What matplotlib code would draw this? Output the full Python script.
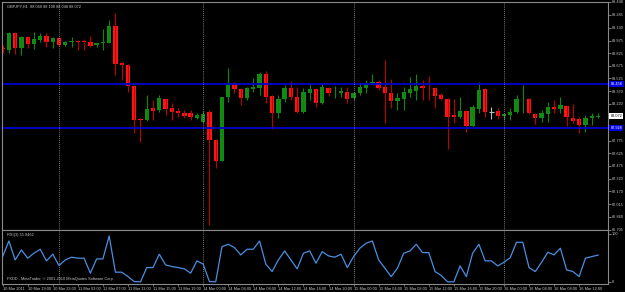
import matplotlib
matplotlib.use("Agg")
import matplotlib.pyplot as plt
import matplotlib.transforms as mtransforms
import numpy as np

# GBPJPY H1 candles, 10 Mar 2011 15:00 -> 16 Mar 2011 15:00
opens = [88.888, 88.864, 89.068, 88.888, 89.020, 88.936, 88.984, 89.032, 88.960, 89.008,
         88.924, 88.960, 88.972, 88.972, 88.960, 88.924, 88.948, 88.948, 89.152, 88.708,
         88.684, 88.432, 88.036, 88.024, 88.168, 88.144, 88.276, 88.168, 88.132, 88.108,
         88.108, 88.048, 88.000, 88.120, 87.784, 87.532, 88.300, 88.456, 88.396, 88.288,
         88.396, 88.408, 88.576, 88.312, 88.108, 88.276, 88.408, 88.300, 88.120, 88.348,
         88.396, 88.228, 88.408, 88.354, 88.348, 88.360, 88.288, 88.348, 88.408, 88.468,
         88.480, 88.420, 88.348, 88.252, 88.276, 88.348, 88.372, 88.432, 88.408, 88.408,
         88.324, 88.276, 88.084, 88.060, 88.132, 87.952, 88.156, 88.396, 88.120, 88.132,
         88.072, 88.084, 88.120, 88.282, 88.276, 88.096, 88.048, 88.096, 88.180, 88.156,
         88.192, 88.048, 88.036, 87.964, 88.048, 88.060]
highs = [88.924, 89.080, 89.080, 89.032, 89.032, 89.080, 89.068, 89.068, 89.020, 89.020,
         88.972, 89.020, 88.984, 88.996, 89.032, 88.948, 89.116, 89.224, 89.308, 88.720,
         88.696, 88.432, 88.048, 88.324, 88.264, 88.324, 88.276, 88.228, 88.168, 88.144,
         88.144, 88.108, 88.132, 88.144, 87.796, 88.300, 88.648, 88.480, 88.408, 88.420,
         88.528, 88.600, 88.612, 88.324, 88.324, 88.444, 88.492, 88.420, 88.408, 88.468,
         88.408, 88.468, 88.420, 88.432, 88.420, 88.420, 88.360, 88.468, 88.504, 88.576,
         88.504, 88.744, 88.516, 88.348, 88.420, 88.540, 88.576, 88.504, 88.552, 88.420,
         88.348, 88.288, 88.276, 88.300, 88.144, 88.204, 88.480, 88.408, 88.180, 88.168,
         88.096, 88.168, 88.324, 88.444, 88.288, 88.108, 88.144, 88.240, 88.264, 88.300,
         88.204, 88.216, 88.060, 88.084, 88.108, 88.108]
lows = [88.828, 88.828, 88.816, 88.804, 88.888, 88.876, 88.960, 88.900, 88.888, 88.912,
        88.912, 88.900, 88.864, 88.864, 88.900, 88.900, 88.864, 88.948, 88.564, 88.504,
        88.360, 87.868, 87.760, 88.012, 88.024, 88.120, 88.084, 88.024, 88.060, 88.048,
        88.024, 88.036, 87.988, 86.764, 87.448, 87.532, 88.240, 88.348, 88.204, 88.264,
        88.360, 88.324, 88.228, 87.916, 88.048, 88.240, 88.264, 88.108, 88.108, 88.264,
        88.180, 88.216, 88.312, 88.288, 88.300, 88.228, 88.264, 88.324, 88.348, 88.456,
        88.384, 87.988, 88.168, 88.144, 88.144, 88.300, 88.264, 88.264, 88.264, 88.168,
        88.264, 87.676, 87.988, 88.048, 87.880, 87.940, 88.108, 88.060, 88.036, 88.036,
        88.024, 88.024, 88.108, 88.108, 88.096, 87.976, 88.000, 88.000, 88.108, 88.108,
        87.952, 87.988, 87.868, 87.880, 87.964, 88.048]
closes = [88.876, 89.068, 88.888, 89.020, 88.936, 88.996, 89.032, 88.960, 89.008, 88.924,
          88.960, 88.972, 88.960, 88.960, 88.912, 88.948, 88.960, 89.152, 88.696, 88.684,
          88.432, 88.024, 88.024, 88.156, 88.132, 88.288, 88.156, 88.120, 88.108, 88.072,
          88.060, 88.084, 88.096, 87.784, 87.532, 88.300, 88.456, 88.396, 88.288, 88.408,
          88.420, 88.576, 88.300, 88.108, 88.276, 88.408, 88.300, 88.120, 88.360, 88.396,
          88.228, 88.420, 88.348, 88.360, 88.372, 88.276, 88.348, 88.420, 88.468, 88.480,
          88.408, 88.348, 88.252, 88.288, 88.360, 88.396, 88.432, 88.408, 88.402, 88.312,
          88.276, 88.060, 88.060, 88.132, 87.952, 88.180, 88.384, 88.120, 88.120, 88.072,
          88.096, 88.120, 88.276, 88.288, 88.108, 88.048, 88.108, 88.180, 88.156, 88.204,
          88.060, 88.012, 87.964, 88.048, 88.072, 88.072]

rsi = [52.7, 85.4, 45.8, 66.7, 49.4, 59.8, 68.1, 43.8, 57.7, 34.0,
       45.8, 51.5, 49.4, 49.4, 18.1, 47.9, 47.9, 95.8, 20.2, 20.2,
       11.0, 0.6, 0.0, 29.8, 29.8, 57.7, 35.4, 31.9, 29.8, 27.1,
       18.1, 43.8, 37.0, 0.6, 0.0, 73.5, 78.5, 71.5, 56.3, 68.1,
       68.1, 85.4, 36.8, 21.5, 45.8, 64.6, 45.8, 27.1, 59.8, 64.6,
       38.9, 63.2, 54.2, 51.5, 57.7, 29.8, 52.7, 70.2, 80.6, 85.4,
       45.8, 28.5, 11.0, 28.5, 59.8, 64.6, 78.5, 61.1, 61.1, 21.5,
       13.2, 0.0, 0.0, 33.3, 11.0, 59.8, 78.5, 43.8, 43.8, 33.3,
       40.9, 50.7, 82.6, 82.6, 29.8, 21.5, 40.9, 61.8, 56.3, 70.2,
       25.0, 21.5, 11.0, 49.4, 52.7, 55.9]

time_labels = ["10 Mar 2011", "10 Mar 19:00", "10 Mar 23:00", "11 Mar 03:00", "11 Mar 07:00",
               "11 Mar 11:00", "11 Mar 15:00", "11 Mar 19:00", "14 Mar 00:00", "14 Mar 04:00",
               "14 Mar 08:00", "14 Mar 12:00", "14 Mar 16:00", "14 Mar 20:00", "15 Mar 00:00",
               "15 Mar 04:00", "15 Mar 08:00", "15 Mar 12:00", "15 Mar 16:00", "15 Mar 20:00",
               "16 Mar 00:00", "16 Mar 04:00", "16 Mar 08:00", "16 Mar 12:00"]
day_starts = [9, 32, 56, 80]
price_ticks = [89.440, 89.285, 89.130, 88.975, 88.825, 88.675, 88.525, 88.370, 88.220,
               87.775, 87.625, 87.475, 87.320, 87.170, 87.015, 86.860, 86.705]
levels = [88.456, 87.928]

plt.rcParams['font.family'] = ['Liberation Sans', 'DejaVu Sans']
fs = 2.8
txt = "#c8c8c8"
frame = "#8a8a8a"

fig = plt.figure(figsize=(6.25, 2.92), dpi=100, facecolor="black")
ax = fig.add_axes([2 / 625, 62 / 292, 606 / 625, 228 / 292], facecolor="black")
rx = fig.add_axes([2 / 625, 8 / 292, 606 / 625, 54 / 292], facecolor="black")

o = np.array(opens)
h = np.array(highs)
l = np.array(lows)
c = np.array(closes)
x = np.arange(len(o))

up = c > o
down = c < o
flat = c == o

# candles
ax.vlines(x[up], l[up], h[up], colors="#0a8a0a", linewidth=0.8)
ax.vlines(x[down], l[down], h[down], colors="#c00000", linewidth=0.8)
ax.vlines(x[flat], l[flat], h[flat], colors="#bdbdbd", linewidth=0.8)
ax.bar(x[up], c[up] - o[up], bottom=o[up], width=0.7, color="#148c14", linewidth=0)
ax.bar(x[down], c[down] - o[down], bottom=o[down], width=0.7, color="#ff1414", linewidth=0)
ax.hlines(o[flat], x[flat] - 0.35, x[flat] + 0.35, colors="#bdbdbd", linewidth=0.8)

for lv in levels:
    ax.axhline(lv, color="#0000d0", linewidth=1.3)

for d in day_starts:
    ax.axvline(d, color="#a0a0a0", linestyle=(0, (1, 1.5)), linewidth=0.6)
    rx.axvline(d, color="#a0a0a0", linestyle=(0, (1, 1.5)), linewidth=0.6)

ax.set_xlim(-0.1, 96.6)
ax.set_ylim(86.704, 89.440)
ax.set_xticks([])
ax.yaxis.tick_right()
ax.set_yticks(price_ticks)
ax.set_yticklabels([f"{p:.3f}" for p in price_ticks])
ax.tick_params(axis="y", colors=frame, labelcolor=txt, labelsize=fs, length=2, width=0.6, pad=1)

# price labels on the right scale
tr = mtransforms.blended_transform_factory(ax.transAxes, ax.transData)
for lv in levels:
    ax.text(1.004, lv, f"{lv:.3f}", transform=tr, color="white", fontsize=fs, va="center", ha="left",
            bbox=dict(boxstyle="square,pad=0.3", facecolor="#0000e0", edgecolor="none"))
ax.text(1.004, closes[-1], f"{closes[-1]:.3f}", transform=tr, color="black", fontsize=fs, va="center",
        ha="left", bbox=dict(boxstyle="square,pad=0.3", facecolor="white", edgecolor="none"))

ax.text(0.008, 0.988, f"GBPJPY,H1  {opens[-1]:.3f} {highs[-1]:.3f} {lows[-1]:.3f} {closes[-1]:.3f}",
        transform=ax.transAxes, color=txt, fontsize=fs, va="top", ha="left")

# RSI window
rx.plot(x, rsi, color="#4a8fe0", linewidth=0.9)
rx.set_xlim(-0.1, 96.6)
rx.set_ylim(-4.5, 108.3)
rx.yaxis.tick_right()
rx.set_yticks([0, 100])
rx.set_yticklabels(["0", "100"])
rx.tick_params(axis="y", colors=frame, labelcolor=txt, labelsize=fs, length=2, width=0.6, pad=1)
rx.set_xticks(np.arange(0, len(o), 4))
rx.set_xticklabels(time_labels, ha="left")
rx.tick_params(axis="x", colors=frame, labelcolor=txt, labelsize=fs, length=1.5, width=0.6, pad=0.3)
rx.text(0.008, 0.95, f"RSI(3) {55.9462:.4f}", transform=rx.transAxes, color=txt, fontsize=fs,
        va="top", ha="left")
rx.text(0.008, 0.05, "FXDD - MetaTrader, \u00a9 2001-2010 MetaQuotes Software Corp.",
        transform=rx.transAxes, color=txt, fontsize=fs, va="bottom", ha="left")

for a in (ax, rx):
    for s in a.spines.values():
        s.set_color(frame)
        s.set_linewidth(0.8)

fig.savefig("out.png", dpi=100, facecolor="black")
